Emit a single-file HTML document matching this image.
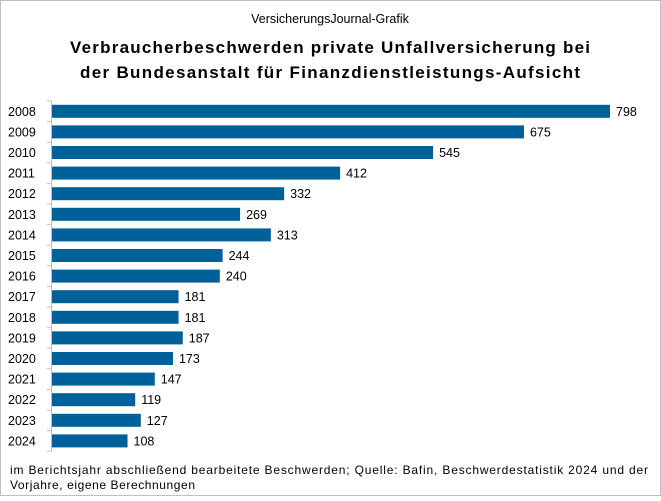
<!DOCTYPE html>
<html><head><meta charset="utf-8"><style>
body{margin:0;background:#fff;}
#c{position:relative;width:661px;height:496px;font-family:"Liberation Sans",Arial,sans-serif;}
</style></head><body>
<div id="c">
<svg id="s" width="661" height="496" xmlns="http://www.w3.org/2000/svg">
<rect x="0.5" y="0.5" width="660" height="495" fill="#fff" stroke="#bfbfbf"/>
<text x="330" y="23" text-anchor="middle" font-size="12.5" fill="#000">VersicherungsJournal-Grafik</text>
<text x="330" y="53" text-anchor="middle" font-size="17" font-weight="bold" fill="#000" textLength="520" lengthAdjust="spacing">Verbraucherbeschwerden private Unfallversicherung bei</text>
<text x="330" y="78" text-anchor="middle" font-size="17" font-weight="bold" fill="#000" textLength="500" lengthAdjust="spacing">der Bundesanstalt für Finanzdienstleistungs-Aufsicht</text>
<g id="plot"></g>
<text x="10" y="474" font-size="12" fill="#000" textLength="638" lengthAdjust="spacing">im Berichtsjahr abschließend bearbeitete Beschwerden; Quelle: Bafin, Beschwerdestatistik 2024 und der</text>
<text x="10" y="489" font-size="12" fill="#000" textLength="185" lengthAdjust="spacing">Vorjahre, eigene Berechnungen</text>
</svg>
</div>
<script>
const categories=["2008","2009","2010","2011","2012","2013","2014","2015","2016","2017","2018","2019","2020","2021","2022","2023","2024"];
const values=[798,675,545,412,332,269,313,244,240,181,181,187,173,147,119,127,108];
const NS="http://www.w3.org/2000/svg";
const g=document.getElementById('plot');
const x0=52, pxPer=558/798, plotTop=101, step=20.6, barH=13;
function xs(v){return x0+v*pxPer;}
function yc(i){return plotTop+step*i+step/2;}
function mk(t,a){const e=document.createElementNS(NS,t);for(const k in a)e.setAttribute(k,a[k]);g.appendChild(e);return e;}
const ax=mk('line',{x1:51.5,x2:51.5,y1:plotTop,y2:plotTop+step*categories.length,stroke:'#bfbfbf'});


for(let i=0;i<=categories.length;i++){
  const t=mk('line',{x1:47,x2:51.5,y1:plotTop+step*i,y2:plotTop+step*i,stroke:'#bfbfbf'});
  
  
}
categories.forEach((c,i)=>{
  const y=yc(i);
  const l=mk('text',{x:8,y:y+4.5,'font-size':12.5,fill:'#000'});l.textContent=c;
  
  
  const b=mk('rect',{x:x0,y:y-barH/2,width:xs(values[i])-x0,height:barH,fill:'#00609a'});
  
  
  const v=mk('text',{x:xs(values[i])+6,y:y+4.5,'font-size':12.5,fill:'#000'});v.textContent=values[i];
  
  
});
</script>
</body></html>
